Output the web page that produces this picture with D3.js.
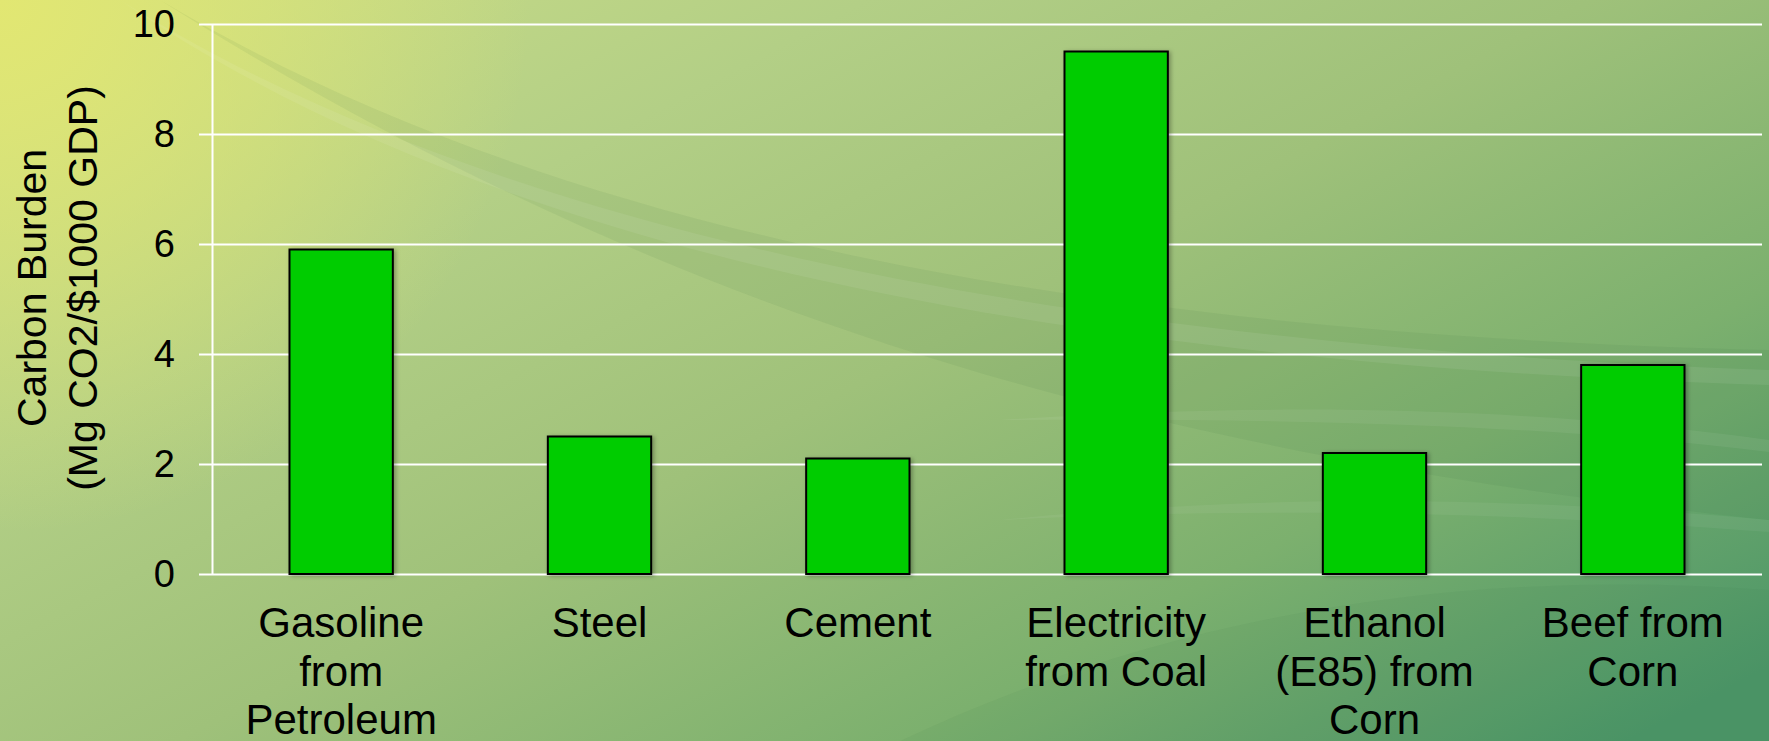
<!DOCTYPE html>
<html>
<head>
<meta charset="utf-8">
<script src="https://cdn.jsdelivr.net/npm/d3@7"></script>
<style>
  html, body { margin: 0; padding: 0; overflow: hidden; }
  body { width: 1769px; height: 741px; font-family: "Liberation Sans", Arial, sans-serif; }
</style>
</head>
<body>
<div id="viz"></div>
<script>
'use strict';

const categories = [
  ['Gasoline', 'from', 'Petroleum'],
  ['Steel'],
  ['Cement'],
  ['Electricity', 'from Coal'],
  ['Ethanol', '(E85) from', 'Corn'],
  ['Beef from', 'Corn']
];
const values = [5.9, 2.5, 2.1, 9.5, 2.2, 3.8];
const yTicks = [0, 2, 4, 6, 8, 10];
const yTitle = ['Carbon Burden', '(Mg CO2/$1000 GDP)'];

const W = 1769, H = 741;
const margin = {top: 24, right: 7, bottom: 167, left: 212};
const width = W - margin.left - margin.right;
const height = H - margin.top - margin.bottom;
const font = '"Liberation Sans", Arial, sans-serif';

const svg = d3.select('#viz')
  .append('svg')
    .attr('width', W)
    .attr('height', H);

// background: green slide gradient with soft swooshes
const defs = svg.append('defs');

const bg = defs.append('linearGradient')
  .attr('id', 'bg')
  .attr('x1', 0).attr('y1', 0.1)
  .attr('x2', 1).attr('y2', 0.9);
[[0, '#c9dc86'], [0.25, '#b3cf86'], [0.5, '#9fc17a'], [0.75, '#7cb06e'], [1, '#4c9668']]
  .forEach(([o, c]) => bg.append('stop').attr('offset', o).attr('stop-color', c));

const glow = defs.append('radialGradient')
  .attr('id', 'glow')
  .attr('cx', 0).attr('cy', 0).attr('r', 0.3)
  .attr('gradientTransform', 'scale(1,2.4)');
glow.append('stop').attr('offset', 0).attr('stop-color', '#e2e772').attr('stop-opacity', 1);
glow.append('stop').attr('offset', 1).attr('stop-color', '#e2e772').attr('stop-opacity', 0);

const shadow = defs.append('filter')
  .attr('id', 'shadow')
  .attr('x', -0.1).attr('y', -0.1).attr('width', 1.3).attr('height', 1.2);
shadow.append('feDropShadow')
  .attr('dx', 2).attr('dy', 1).attr('stdDeviation', 2)
  .attr('flood-color', '#000').attr('flood-opacity', 0.3);

svg.append('rect').attr('width', W).attr('height', H).attr('fill', 'url(#bg)');
svg.append('rect').attr('width', W).attr('height', H).attr('fill', 'url(#glow)');

// swooshes
const swoosh = svg.append('g');
swoosh.append('path')
  .attr('d', 'M160,0 C480,190 950,330 1769,350 L1769,520 C1200,460 700,340 160,0 Z')
  .attr('fill', '#2f6a3a').attr('opacity', 0.07);
swoosh.append('path')
  .attr('d', 'M120,0 C440,200 950,340 1769,370 L1769,385 C950,360 440,220 120,0 Z')
  .attr('fill', '#ffffff').attr('opacity', 0.07);
swoosh.append('path')
  .attr('d', 'M1000,420 C1300,400 1550,410 1769,440 L1769,452 C1550,425 1300,418 1000,420 Z')
  .attr('fill', '#ffffff').attr('opacity', 0.06);
swoosh.append('path')
  .attr('d', 'M1000,520 C1300,490 1550,500 1769,520 L1769,532 C1550,515 1300,505 1000,520 Z')
  .attr('fill', '#ffffff').attr('opacity', 0.05);
swoosh.append('path')
  .attr('d', 'M900,741 C1200,600 1500,570 1769,590 L1769,741 Z')
  .attr('fill', '#2f6a3a').attr('opacity', 0.05);

const g = svg.append('g')
  .attr('transform', `translate(${margin.left},${margin.top})`);

const x = d3.scaleBand()
  .domain(d3.range(categories.length))
  .range([0, width])
  .paddingInner(0.6)
  .paddingOuter(0.3);

const y = d3.scaleLinear()
  .domain([0, 10])
  .range([height, 0]);

// gridlines
g.append('g')
  .call(d3.axisLeft(y).tickValues(yTicks).tickSize(-width).tickFormat(''))
  .call(s => s.select('.domain').remove())
  .call(s => s.selectAll('line').attr('stroke', '#ffffff').attr('stroke-width', 2));

// left axis with ticks and labels
g.append('g')
  .call(d3.axisLeft(y).tickValues(yTicks).tickSize(13).tickSizeOuter(0).tickPadding(24))
  .call(s => s.select('.domain').attr('stroke', '#ffffff').attr('stroke-width', 2))
  .call(s => s.selectAll('line').attr('stroke', '#ffffff').attr('stroke-width', 2))
  .call(s => s.selectAll('text')
    .attr('fill', '#000')
    .style('font-family', font)
    .style('font-size', '38px'));

// bars
g.selectAll('.bar')
  .data(values)
  .join('rect')
    .attr('class', 'bar')
    .attr('x', (d, i) => x(i))
    .attr('y', d => y(d))
    .attr('width', x.bandwidth())
    .attr('height', d => y(0) - y(d))
    .attr('fill', '#00cc00')
    .attr('stroke', '#000')
    .attr('stroke-width', 2)
    .attr('filter', 'url(#shadow)');

// category labels
const lineH = 48.5;
const labels = g.append('g')
  .style('font-family', font)
  .style('font-size', '42px');
categories.forEach((lines, i) => {
  const cx = x(i) + x.bandwidth() / 2;
  const t = labels.append('text')
    .attr('text-anchor', 'middle')
    .attr('x', cx)
    .attr('y', height + 63);
  lines.forEach((ln, k) => {
    t.append('tspan')
      .attr('x', cx)
      .attr('dy', k === 0 ? 0 : lineH)
      .text(ln);
  });
});

// y axis title
const title = svg.append('text')
  .attr('transform', 'translate(46,288) rotate(-90)')
  .attr('text-anchor', 'middle')
  .style('font-family', font)
  .style('font-size', '41px')
  .attr('fill', '#000');
yTitle.forEach((ln, k) => {
  title.append('tspan')
    .attr('x', 0)
    .attr('dy', k === 0 ? 0 : 51)
    .text(ln);
});
</script>
</body>
</html>
